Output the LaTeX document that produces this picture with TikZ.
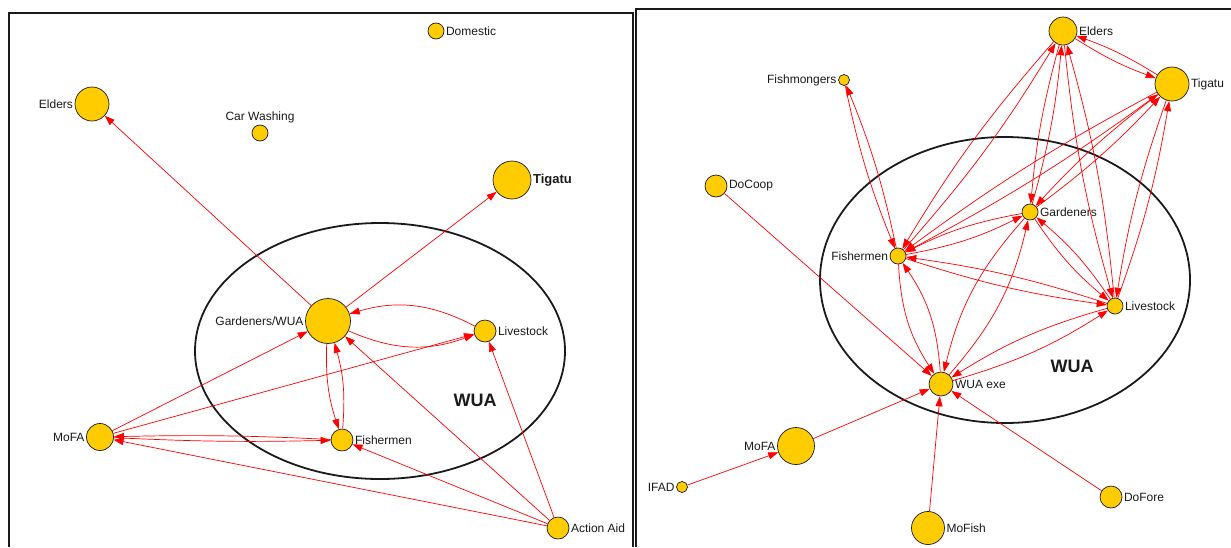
\documentclass[tikz,border=0pt]{standalone}
\usepackage{fontspec}
\setmainfont{Liberation Sans}
\usetikzlibrary{arrows.meta}
\definecolor{ink}{HTML}{1A1A1A}
\definecolor{gold}{HTML}{FFCC00}
\definecolor{link}{HTML}{FF0000}
\tikzset{
  nd/.style={circle,draw=ink,line width=.7pt,fill=gold,inner sep=0pt},
  lab/.style={font=\fontsize{12}{14}\selectfont,text=ink,inner sep=1.5pt},
  labb/.style={lab,font=\fontsize{13}{15}\selectfont\bfseries},
  ar/.style={-{Triangle[length=10pt,width=7pt]},draw=link,line width=.7pt},
  frame/.style={draw=ink,line width=1.4pt},
  grp/.style={draw=ink,line width=1.8pt},
  grplab/.style={font=\fontsize{18}{20}\selectfont\bfseries,text=ink},
}
\begin{document}
\begin{tikzpicture}[x=1pt,y=-1pt,label distance=0pt]
  \useasboundingbox (0,0) rectangle (1231,547);
  \draw[frame] (9,547) -- (9,13) -- (633,13) -- (633,547);
  \draw[frame] (636,547) -- (636,9) -- (1231,9);
  % left network
  \draw[grp] (380,351) ellipse [x radius=185, y radius=128];
  \node[grplab] (lwua) at (475,400) {WUA};
  \node[nd,minimum size=16,label={[lab]right:Domestic}] (ldo) at (436,31) {};
  \node[nd,minimum size=34,label={[lab]left:Elders}] (lel) at (92,104) {};
  \node[nd,minimum size=16,label={[lab]above:Car Washing}] (lcw) at (260,133) {};
  \node[nd,minimum size=38,label={[labb]right:Tigatu}] (lti) at (512,180) {};
  \node[nd,minimum size=45,label={[lab]left:Gardeners/WUA}] (lgw) at (328,321) {};
  \node[nd,minimum size=22,label={[lab]right:Livestock}] (lli) at (485,331) {};
  \node[nd,minimum size=27,label={[lab]left:MoFA}] (lmo) at (100,437) {};
  \node[nd,minimum size=22,label={[lab]right:Fishermen}] (lfi) at (342,440) {};
  \node[nd,minimum size=22,label={[lab]right:Action Aid}] (laa) at (558,528) {};
  \foreach \a/\b in {lgw/lel,lgw/lti,lmo/lgw,lmo/lli,laa/lmo,laa/lfi,laa/lgw,laa/lli}
    \draw[ar] (\a) -- (\b);
  \foreach \a/\b/\c in {lgw/lli/22,lgw/lfi/10,lmo/lfi/2}
    { \draw[ar] (\a) to[bend right=\c] (\b); \draw[ar] (\b) to[bend right=\c] (\a); }
  % right network
  \draw[grp] (1005,280) ellipse [x radius=185, y radius=143];
  \node[grplab] (rwua) at (1072,366) {WUA};
  \node[nd,minimum size=28,label={[lab]right:Elders}] (rel) at (1063,31) {};
  \node[nd,minimum size=34,label={[lab]right:Tigatu}] (rti) at (1172,84) {};
  \node[nd,minimum size=11,label={[lab]left:Fishmongers}] (rfm) at (844,80) {};
  \node[nd,minimum size=22,label={[lab]right:DoCoop}] (rdc) at (716,186) {};
  \node[nd,minimum size=16,label={[lab]right:Gardeners}] (rga) at (1030,212) {};
  \node[nd,minimum size=16,label={[lab]left:Fishermen}] (rfi) at (898,256) {};
  \node[nd,minimum size=16,label={[lab]right:Livestock}] (rli) at (1115,306) {};
  \node[nd,minimum size=24,label={[lab]right:WUA exe}] (rwe) at (941,384) {};
  \node[nd,minimum size=37,label={[lab]left:MoFA}] (rmo) at (796,446) {};
  \node[nd,minimum size=11,label={[lab]left:IFAD}] (rif) at (682,487) {};
  \node[nd,minimum size=33,label={[lab]right:MoFish}] (rmf) at (928,528) {};
  \node[nd,minimum size=22,label={[lab]right:DoFore}] (rdf) at (1111,497) {};
  \foreach \a/\b in {rdc/rwe,rmo/rwe,rif/rmo,rmf/rwe,rdf/rwe}
    \draw[ar] (\a) -- (\b);
  \foreach \a/\b/\c in {rel/rti/6,rel/rfi/5,rel/rga/5,rel/rli/5,rti/rfi/4,rti/rga/5,rti/rli/5,rfm/rfi/5,
                        rga/rfi/8,rfi/rli/5,rga/rli/8,rfi/rwe/15,rga/rwe/14,rli/rwe/8}
    { \draw[ar] (\a) to[bend right=\c] (\b); \draw[ar] (\b) to[bend right=\c] (\a); }
\end{tikzpicture}
\end{document}
